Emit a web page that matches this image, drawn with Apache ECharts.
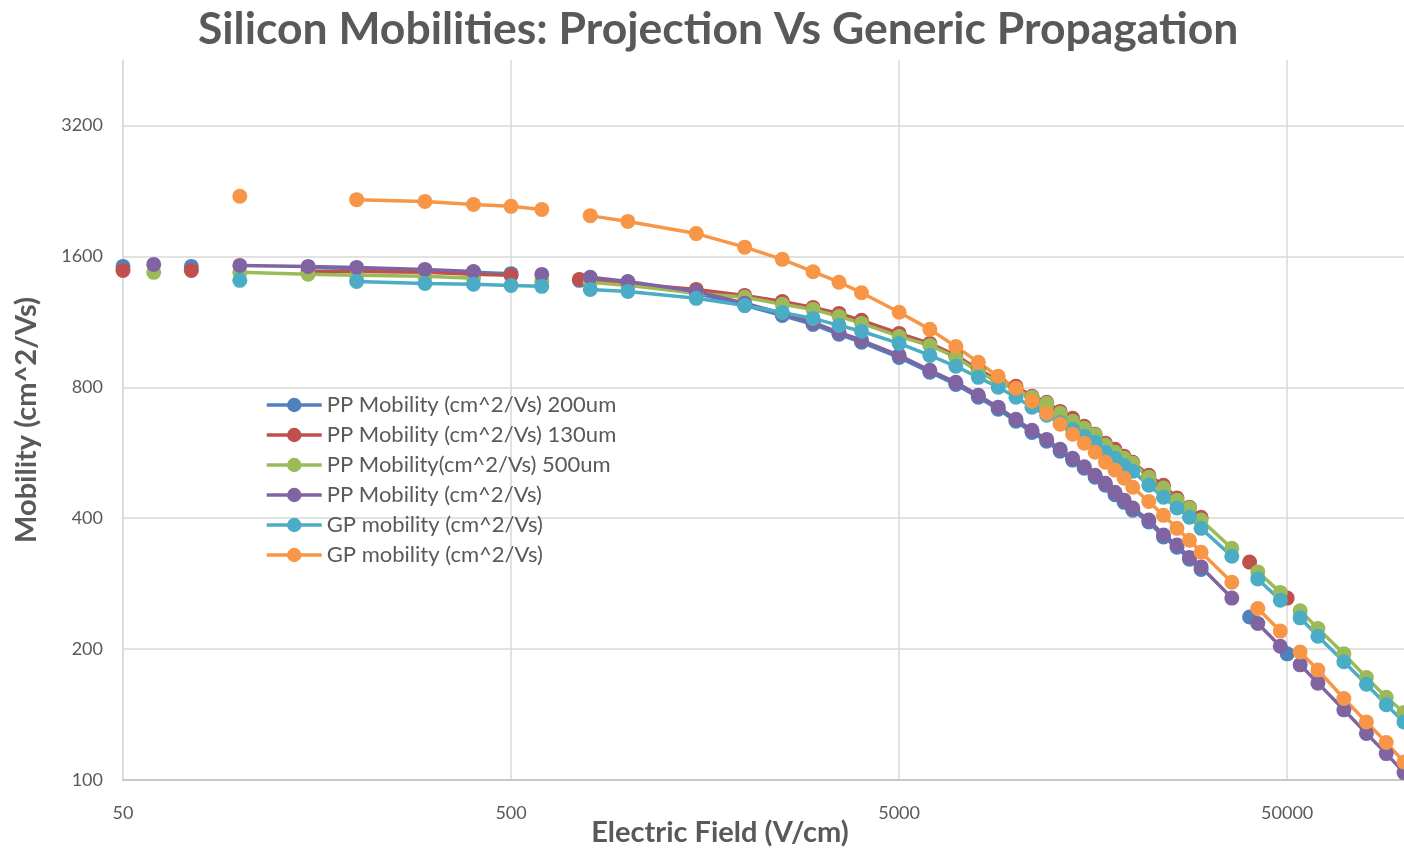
<!DOCTYPE html>
<html>
<head>
<meta charset="utf-8">
<script src="https://cdn.jsdelivr.net/npm/echarts@6/dist/echarts.min.js"></script>
<style>
  html, body { margin: 0; padding: 0; background: #ffffff; }
  #chart { width: 1404px; height: 849px; }
</style>
</head>
<body>
<div id="chart"></div>
<script>
// Electric field grid (V/cm) shared by all series; null = no measurement at that field
const fieldGrid = [
  50, 60, 75, 100, 150, 200, 300, 400, 500, 600, 750, 800,
  1000, 1500, 2000, 2500, 3000, 3500, 4000,
  5000, 6000, 7000, 8000, 9000, 10000, 11000, 12000, 13000, 14000, 15000, 16000, 17000, 18000, 19000, 20000,
  22000, 24000, 26000, 28000, 30000,
  36000, 40000, 42000, 48000, 50000,
  54000, 60000, 70000, 80000, 90000, 100000
];

// Mobility values (cm^2/Vs)
const mobilityPP200 = [
  1517, null, 1517, null, 1509, 1501, 1485, 1470, 1460, null, 1409, 1420,
  1386, 1316, 1234, 1170, 1116, 1059, 1015,
  937, 866, 812, 759, 712, 668, 630, 601, 570, 544, 521, 497, 476, 453, 435, 417,
  392, 362, 343, 322, 305,
  null, 237, null, null, 195,
  null, null, null, null, null, null
];
const mobilityPP130 = [
  1485, null, 1485, null, 1477, 1477, 1470, 1455, 1447, null, 1416, 1409,
  1386, 1343, 1301, 1260, 1221, 1183, 1140,
  1064, 1009, 947, 880, 830, 804, 763, 739, 704, 679, 651, 624, 595, 576, 555, 538,
  502, 476, 445, 424, 402,
  null, 317, null, null, 262,
  null, null, null, null, null, null
];
const mobilityPP500 = [
  null, 1470, null, 1470, 1455, 1447, 1440, 1424, null, 1401, null, 1394,
  1372, 1316, 1288, 1242, 1208, 1164, 1122,
  1047, 998, 938, 870, 821, 792, 759, 735, 697, 668, 644, 621, 589, 567, 549, 535,
  497, 469, 440, 422, 396,
  341, null, 301, 270, null,
  245, 223, 195, 172, 155, 143
];
const mobilityPP = [
  null, 1533, null, 1525, 1517, 1509, 1493, 1477, null, 1454, null, 1432,
  1401, 1329, 1248, 1183, 1128, 1070, 1026,
  947, 875, 821, 767, 720, 675, 637, 607, 576, 549, 525, 502, 481, 459, 440, 422,
  396, 366, 347, 325, 309,
  262, null, 229, 203, null,
  184, 167, 145, 128, 115, 104
];
const mobilityGP = [
  null, null, null, 1409, null, 1401, 1386, 1380, 1372, 1365, null, 1343,
  1329, 1281, 1234, 1189, 1152, 1110, 1076,
  1009, 947, 894, 843, 800, 759, 720, 690, 664, 640, 617, 598, 567, 549, 529, 513,
  476, 447, 422, 402, 379,
  327, null, 290, 259, null,
  236, 214, 187, 166, 149, 136
];
const mobilityGP2 = [
  null, null, null, 2200, null, 2160, 2140, 2105, 2085, 2050, null, 1985,
  1925, 1805, 1680, 1575, 1475, 1395, 1320,
  1190, 1087, 993, 913, 848, 796, 743, 697, 658, 624, 595, 567, 538, 516, 494, 471,
  437, 406, 379, 356, 334,
  285, null, 248, 220, null,
  197, 179, 154, 136, 122, 110
];

const seriesNames = [
  'PP Mobility (cm^2/Vs) 200um',
  'PP Mobility (cm^2/Vs) 130um',
  'PP Mobility(cm^2/Vs) 500um',
  'PP Mobility (cm^2/Vs)',
  'GP mobility (cm^2/Vs)',
  'GP mobility (cm^2/Vs) '
];
const seriesValues = [mobilityPP200, mobilityPP130, mobilityPP500, mobilityPP, mobilityGP, mobilityGP2];
const seriesColors = ['#4F81BD', '#C0504D', '#9BBB59', '#8064A2', '#4BACC6', '#F79646'];

// Axis tick values
const fieldTicks = [50, 500, 5000, 50000];
const mobilityTicks = [100, 200, 400, 800, 1600, 3200];

const FONT = 'Lato, "Open Sans", sans-serif';
const TEXT = '#595959';

const chart = echarts.init(document.getElementById('chart'), null, { renderer: 'canvas' });

const series = seriesNames.map((name, s) => ({
  type: 'line',
  name: name,
  data: fieldGrid.map((x, i) => [x, seriesValues[s][i] == null ? '-' : seriesValues[s][i]]),
  connectNulls: false,
  symbol: 'circle',
  symbolSize: 15,
  showSymbol: true,
  showAllSymbol: true,
  lineStyle: { width: 3.5, color: seriesColors[s] },
  itemStyle: { color: seriesColors[s] },
  emphasis: { disabled: true },
  animation: false
}));

chart.setOption({
  backgroundColor: '#ffffff',
  animation: false,
  title: {
    text: 'Silicon Mobilities: Projection Vs Generic Propagation',
    left: 198,
    top: 0,
    padding: [7, 0, 4, 0],
    textStyle: { fontFamily: FONT, fontWeight: 'bold', fontSize: 44.5, color: TEXT }
  },
  legend: {
    data: seriesNames,
    orient: 'vertical',
    left: 260,
    top: 389,
    itemWidth: 55,
    itemHeight: 18,
    itemGap: 8,
    lineStyle: { width: 3.5 },
    textStyle: { fontFamily: FONT, fontSize: 22, lineHeight: 20, color: TEXT },
    selectedMode: false
  },
  grid: { left: 123, right: 0, top: 60, bottom: 69, containLabel: false },
  xAxis: {
    type: 'log',
    logBase: 10,
    min: 50,
    max: 100000,
    axisLine: { show: true, lineStyle: { color: '#BFBFBF', width: 1.5 } },
    axisTick: { show: false, customValues: fieldTicks },
    axisLabel: {
      customValues: fieldTicks,
      formatter: v => String(Math.round(v)),
      fontFamily: FONT, fontSize: 18, color: TEXT, margin: 24
    },
    splitLine: { show: true, lineStyle: { color: '#D9D9D9', width: 1.5 } },
    minorSplitLine: { show: false }
  },
  yAxis: {
    type: 'log',
    logBase: 2,
    min: 100,
    max: 4525,
    name: 'Mobility (cm^2/Vs)',
    nameLocation: 'middle',
    nameRotate: 90,
    nameGap: 82,
    nameTextStyle: { fontFamily: FONT, fontWeight: 'bold', fontSize: 29, color: TEXT },
    axisLine: { show: true, lineStyle: { color: '#D9D9D9', width: 1.5 } },
    axisTick: { show: false, customValues: mobilityTicks },
    axisLabel: {
      customValues: mobilityTicks,
      formatter: v => String(Math.round(v)),
      fontFamily: FONT, fontSize: 18, color: TEXT, margin: 20
    },
    splitLine: { show: true, lineStyle: { color: '#D9D9D9', width: 1.5 } },
    minorSplitLine: { show: false }
  },
  graphic: [{
    type: 'text',
    x: 720,
    y: 833,
    style: {
      text: 'Electric Field (V/cm)',
      font: 'bold 29px ' + FONT,
      fill: TEXT,
      align: 'center',
      verticalAlign: 'middle'
    }
  }],
  series: series
});
</script>
</body>
</html>
